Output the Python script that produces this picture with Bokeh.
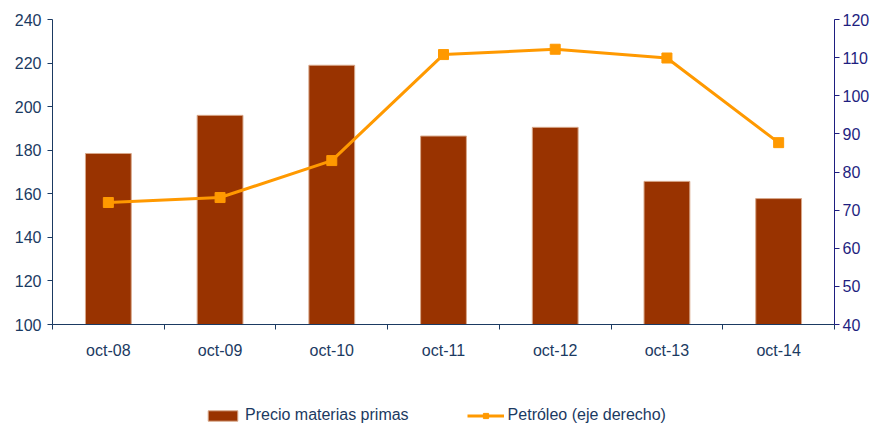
from bokeh.plotting import figure
from bokeh.layouts import column
from bokeh.models import (Range1d, LinearAxis, FixedTicker, Legend, LegendItem, ColumnDataSource)
from bokeh.embed import file_html
from bokeh.resources import INLINE

categories = ["oct-08", "oct-09", "oct-10", "oct-11", "oct-12", "oct-13", "oct-14"]
precio_materias = [178.5, 196, 219, 186.5, 190.5, 165.7, 157.8]
petroleo = [72, 73.3, 83, 110.8, 112.2, 109.9, 87.7]
left_ticks = [100, 120, 140, 160, 180, 200, 220, 240]
right_ticks = [40, 50, 60, 70, 80, 90, 100, 110, 120]

n = len(categories)
xpos = [i + 0.5 for i in range(n)]          # slot centres
boundary_ticks = list(range(n + 1))         # slot boundaries

FONT = "Liberation Sans"
FS = "16px"
LEFT_COL = "#1B3A62"
RIGHT_COL = "#1E1E80"
BAR_COL = "#993300"
BAR_EDGE = "#D8A88A"
OIL_COL = "#FF9900"

src = ColumnDataSource(dict(x=xpos, precio=precio_materias, oil=petroleo,
                            base=[left_ticks[0]] * n))

p = figure(x_range=Range1d(0, n), y_range=Range1d(left_ticks[0], left_ticks[-1]),
           frame_width=782, frame_height=305,
           min_border_left=52, min_border_top=19, min_border_bottom=45, min_border_right=0,
           output_backend="svg", toolbar_location=None,
           x_axis_location=None, y_axis_location=None)
p.extra_y_ranges = {"r": Range1d(right_ticks[0], right_ticks[-1])}
p.grid.visible = False
p.outline_line_color = None
p.background_fill_color = "white"
p.border_fill_color = "white"

# left axis
ly = LinearAxis(ticker=FixedTicker(ticks=left_ticks))
ly.axis_line_color = LEFT_COL
ly.major_tick_line_color = LEFT_COL
ly.major_tick_out = 5
ly.major_tick_in = 0
ly.minor_tick_line_color = None
ly.major_label_text_color = LEFT_COL
ly.major_label_text_font = FONT
ly.major_label_text_font_size = FS
ly.major_label_standoff = 6
p.add_layout(ly, "left")

# right axis
ry = LinearAxis(y_range_name="r", ticker=FixedTicker(ticks=right_ticks))
ry.axis_line_color = RIGHT_COL
ry.major_tick_line_color = RIGHT_COL
ry.major_tick_out = 5
ry.major_tick_in = 0
ry.minor_tick_line_color = None
ry.major_label_text_color = RIGHT_COL
ry.major_label_text_font = FONT
ry.major_label_text_font_size = FS
ry.major_label_standoff = 3
p.add_layout(ry, "right")

# bottom axis: line + boundary ticks
bx = LinearAxis(ticker=FixedTicker(ticks=boundary_ticks))
bx.axis_line_color = LEFT_COL
bx.major_tick_line_color = LEFT_COL
bx.major_tick_out = 5
bx.major_tick_in = 0
bx.minor_tick_line_color = None
bx.major_label_text_font_size = "0px"
bx.major_label_standoff = 0
bx.major_label_overrides = {t: "" for t in boundary_ticks}
p.add_layout(bx, "below")

# bottom axis: category labels
cx = LinearAxis(ticker=FixedTicker(ticks=xpos))
cx.axis_line_color = None
cx.major_tick_line_color = None
cx.major_tick_out = 0
cx.minor_tick_line_color = None
cx.major_label_overrides = {x: c for x, c in zip(xpos, categories)}
cx.major_label_text_color = LEFT_COL
cx.major_label_text_font = FONT
cx.major_label_text_font_size = FS
cx.major_label_standoff = 12
p.add_layout(cx, "below")

p.vbar(x="x", top="precio", bottom="base", width=0.41, source=src,
       fill_color=BAR_COL, line_color=BAR_EDGE, line_width=1)
p.line(x="x", y="oil", y_range_name="r", source=src, line_color=OIL_COL, line_width=3)
p.scatter(x="x", y="oil", y_range_name="r", source=src, marker="square", size=10,
          fill_color=OIL_COL, line_color=OIL_COL)

# legend strip: a second figure below the chart, whose renderers are out of view
lg = figure(x_range=Range1d(-20, -19), y_range=Range1d(-20, -19),
            frame_width=782, frame_height=55,
            min_border_left=52, min_border_top=0, min_border_bottom=0, min_border_right=0,
            output_backend="svg", toolbar_location=None,
            x_axis_location=None, y_axis_location=None)
lg.grid.visible = False
lg.outline_line_color = None
lg.background_fill_color = "white"
lg.border_fill_color = "white"
lbars = lg.vbar(x="x", top="precio", bottom="base", width=0.41, source=src,
                fill_color=BAR_COL, line_color=BAR_EDGE, line_width=1)
lln = lg.line(x="x", y="oil", source=src, line_color=OIL_COL, line_width=3)
lmk = lg.scatter(x="x", y="oil", source=src, marker="square", size=10,
                 fill_color=OIL_COL, line_color=OIL_COL)

legend = Legend(items=[LegendItem(label="Precio materias primas", renderers=[lbars]),
                       LegendItem(label="Petróleo (eje derecho)", renderers=[lln, lmk])],
                orientation="horizontal", location=(152, 0),
                glyph_width=37, glyph_height=13, label_standoff=4, spacing=58,
                padding=0, margin=0, border_line_color=None, background_fill_alpha=0,
                label_text_font=FONT, label_text_font_size=FS, label_text_color=LEFT_COL)
lg.add_layout(legend, "center")

layout = column(p, lg, spacing=0)
open("out.html", "w").write(file_html(layout, INLINE))
